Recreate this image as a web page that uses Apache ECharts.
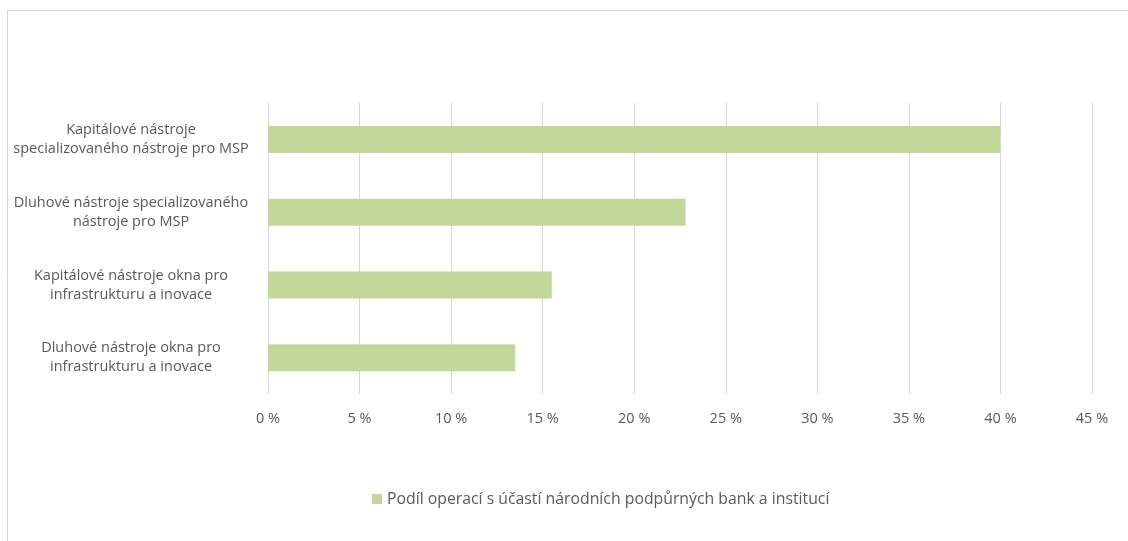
<!DOCTYPE html>
<html>
<head>
<meta charset="utf-8">
<script src="https://cdn.jsdelivr.net/npm/echarts@6/dist/echarts.min.js"></script>
<style>
  html, body { margin: 0; padding: 0; background: #fff; }
  #chart { width: 1128px; height: 541px; }
</style>
</head>
<body>
<div id="chart"></div>
<script>
var categories = [
  'Kapitálové nástroje\nspecializovaného nástroje pro MSP',
  'Dluhové nástroje specializovaného\nnástroje pro MSP',
  'Kapitálové nástroje okna pro\ninfrastrukturu a inovace',
  'Dluhové nástroje okna pro\ninfrastrukturu a inovace'
];
var values = [40, 22.8, 15.5, 13.5];
var seriesName = 'Podíl operací s účastí národních podpůrných bank a institucí';

var myChart = echarts.init(document.getElementById('chart'));
var option = {
  textStyle: { fontFamily: 'Open Sans, Liberation Sans, sans-serif' },
  graphic: [{
    type: 'rect',
    shape: { x: 7.5, y: 10.5, width: 1130, height: 540 },
    style: { fill: 'none', stroke: '#d9d9d9', lineWidth: 1 },
    silent: true
  }],
  grid: { left: 268, right: 36, top: 103, height: 291 },
  legend: {
    data: [seriesName],
    top: 486,
    left: 367,
    itemWidth: 10,
    itemHeight: 10,
    icon: 'rect',
    itemGap: 5,
    textStyle: { color: '#595959', fontSize: 15.8 }
  },
  xAxis: {
    type: 'value',
    min: 0,
    max: 45,
    interval: 5,
    axisLine: { show: false },
    axisTick: { show: false },
    splitLine: { lineStyle: { color: '#d9d9d9' } },
    axisLabel: {
      color: '#595959',
      fontSize: 14.5,
      margin: 17,
      formatter: function (v) { return v + ' %'; }
    }
  },
  yAxis: {
    type: 'category',
    inverse: true,
    data: categories,
    axisLine: { show: false },
    axisTick: { show: false },
    axisLabel: {
      color: '#595959',
      fontSize: 14.5,
      lineHeight: 19,
      align: 'center',
      margin: 137
    }
  },
  series: [{
    name: seriesName,
    type: 'bar',
    data: values,
    barWidth: 27,
    itemStyle: { color: '#c4d79b' }
  }]
};
myChart.setOption(option);
</script>
</body>
</html>
